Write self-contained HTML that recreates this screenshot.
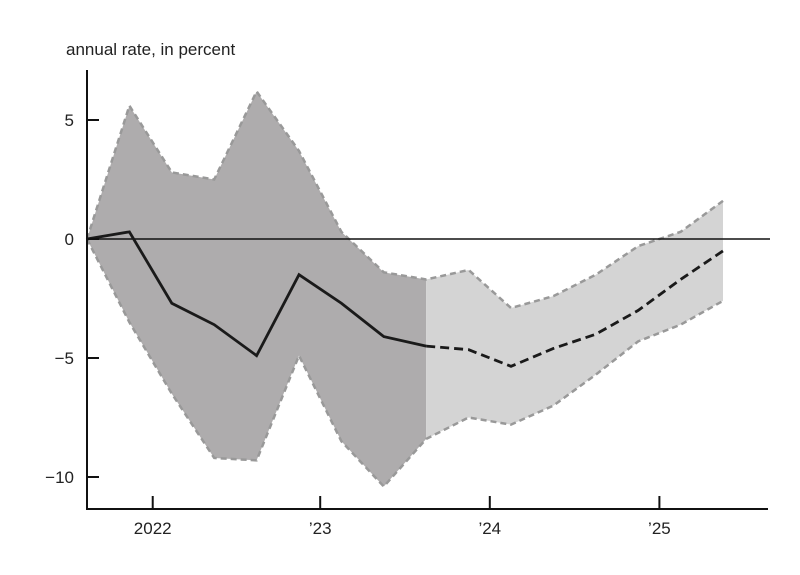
<!DOCTYPE html>
<html><head><meta charset="utf-8"><style>
body{margin:0;background:#fff;}
svg{display:block;font-family:"Liberation Sans",sans-serif;}
</style></head><body>
<svg id="chart" width="800" height="575">
<text x="66" y="55" font-size="17" fill="#222">annual rate, in percent</text>
</svg>
<script>
const upper=[0,5.6,2.8,2.5,6.2,3.7,0.3,-1.4,-1.7,-1.3,-2.9,-2.4,-1.5,-0.3,0.3,1.6];
const lower=[0,-3.5,-6.5,-9.2,-9.3,-4.9,-8.5,-10.4,-8.4,-7.5,-7.8,-7.0,-5.7,-4.3,-3.6,-2.6];
const central=[0,0.3,-2.7,-3.6,-4.9,-1.5,-2.7,-4.1,-4.5,-4.65,-5.35,-4.6,-4.0,-3.0,-1.7,-0.5];
const splitIndex=8;
const yTicks=[5,0,-5,-10];
const yTickLabels=["5","0","\u22125","\u221210"];
const xTickPos=[1.55,5.5,9.5,13.5];
const xTickLabels=["2022","\u201923","\u201924","\u201925"];
const NS="http://www.w3.org/2000/svg";
const svg=document.getElementById('chart');
const X=i=>87+i*42.4;
const Y=v=>239-v*23.8;
function mk(t,a){const e=document.createElementNS(NS,t);for(const k in a)e.setAttribute(k,a[k]);svg.appendChild(e);return e;}
function band(a,b,fill){
  let pts=[];for(let i=a;i<=b;i++)pts.push(X(i)+','+Y(upper[i]));
  for(let i=b;i>=a;i--)pts.push(X(i)+','+Y(lower[i]));
  return mk('polygon',{points:pts.join(' '),fill:fill});
}
let p=band(0,splitIndex,'#aeacad');


p=band(splitIndex,upper.length-1,'#d4d4d4');


function line(arr,a,b,attrs){let pts=[];for(let i=a;i<=b;i++)pts.push(X(i)+','+Y(arr[i]));const e=mk('polyline',Object.assign({points:pts.join(' '),fill:'none'},attrs));return e;}
let e=line(upper,0,upper.length-1,{stroke:'#999','stroke-width':2.5,'stroke-dasharray':'6,4'});


e=line(lower,0,lower.length-1,{stroke:'#999','stroke-width':2.5,'stroke-dasharray':'6,4'});


e=mk('line',{x1:87,x2:770,y1:Y(0),y2:Y(0),stroke:'#111','stroke-width':1.5});


e=line(central,0,splitIndex,{stroke:'#1a1a1a','stroke-width':2.8});


e=line(central,splitIndex,central.length-1,{stroke:'#1a1a1a','stroke-width':2.8,'stroke-dasharray':'9,5'});


e=mk('line',{x1:87,x2:87,y1:70,y2:510,stroke:'#111','stroke-width':2});


e=mk('line',{x1:86,x2:768,y1:509,y2:509,stroke:'#111','stroke-width':2});


yTicks.forEach((v,k)=>{
  const t=mk('line',{x1:87,x2:99,y1:Y(v),y2:Y(v),stroke:'#111','stroke-width':2});
  
  
  const l=mk('text',{x:74,y:Y(v)+6,'text-anchor':'end','font-size':17,fill:'#222'});
  l.textContent=yTickLabels[k];
  
  
});
xTickPos.forEach((v,k)=>{
  const t=mk('line',{x1:X(v),x2:X(v),y1:509,y2:496,stroke:'#111','stroke-width':2});
  
  
  const l=mk('text',{x:X(v),y:534,'text-anchor':'middle','font-size':17,fill:'#222'});
  l.textContent=xTickLabels[k];
  
  
});
</script>
</body></html>
